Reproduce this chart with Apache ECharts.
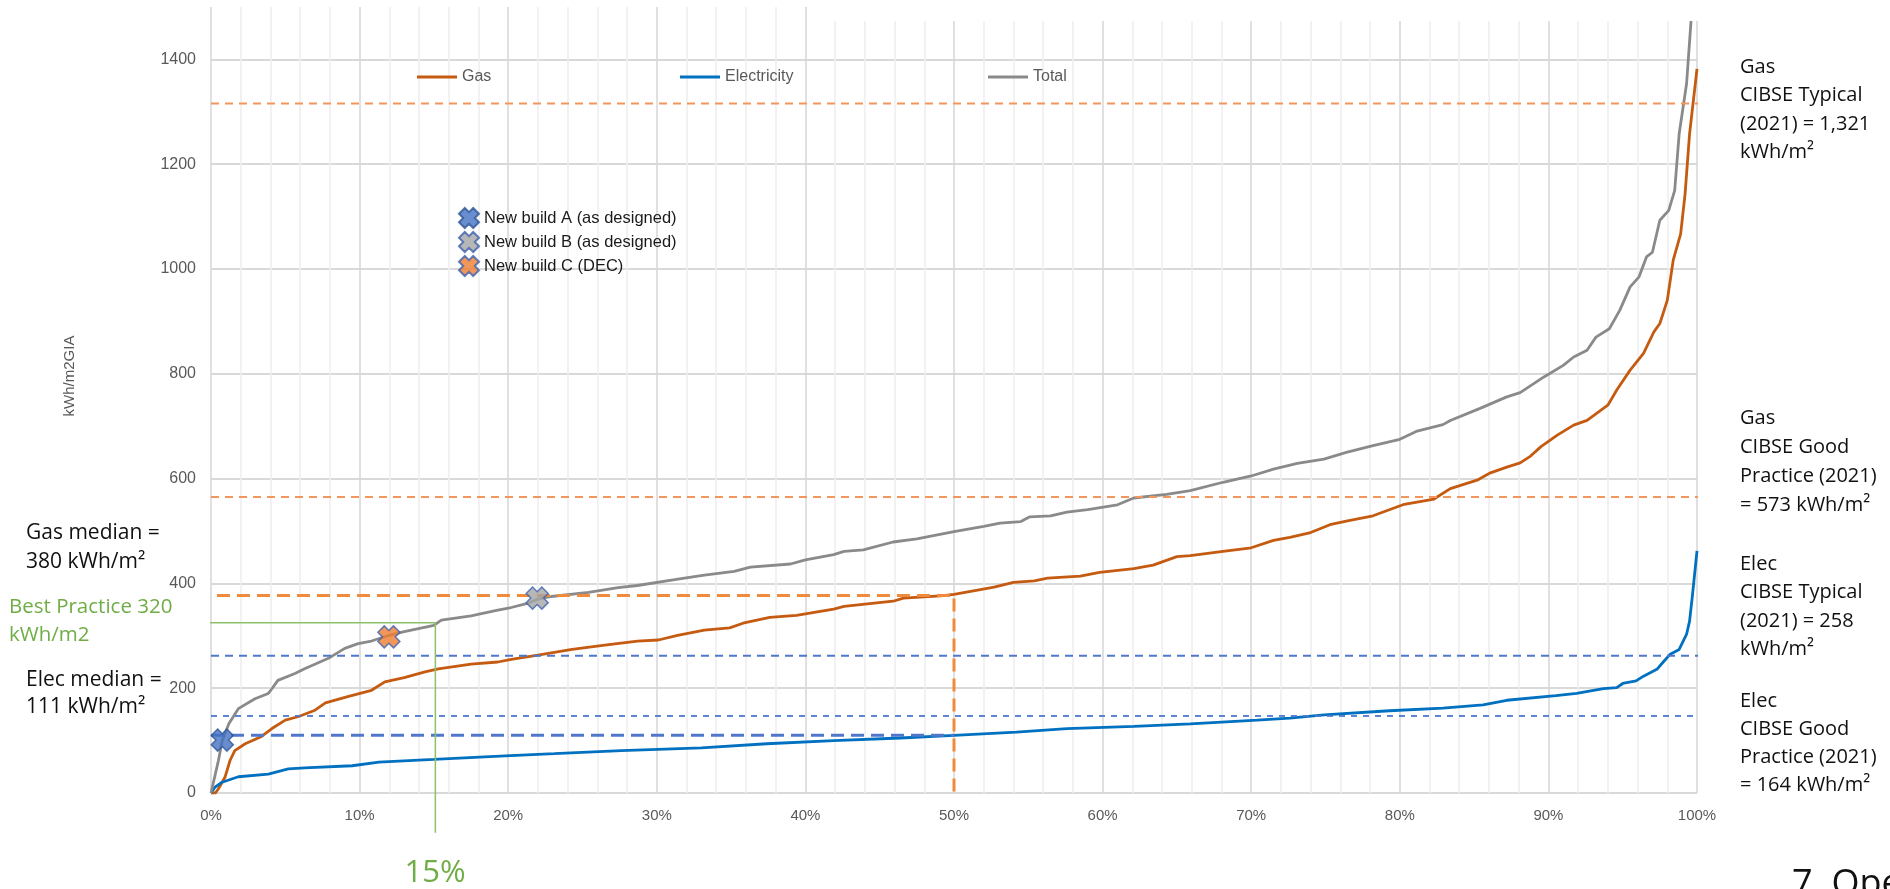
<!DOCTYPE html>
<html>
<head>
<meta charset="utf-8">
<script src="https://cdn.jsdelivr.net/npm/echarts@6/dist/echarts.min.js"></script>
<style>
html,body{margin:0;padding:0;background:#fff;}
#chart{width:1890px;height:889px;}
</style>
</head>
<body>
<div id="chart"></div>
<script>
// ---- Data ----
const gasPct = [0,0.3,0.5,0.94,1.28,1.6,2.3,3.4,4.1,5.0,5.9,7.0,7.7,9.2,10.8,11.7,13.0,14.4,15.3,17.5,19.3,20.2,22.0,24.3,26.5,28.7,30.1,31.4,33.2,34.9,35.8,37.6,39.4,41.9,42.6,45.9,46.6,49.1,50,52.7,54,55.4,56.3,58.5,59.8,62.1,63.4,65,65.9,68.1,70,71.5,72.6,74,75.3,76.4,78.2,80.3,82.3,83.4,85.2,86.1,87.2,88.1,88.8,89.5,90.6,91.7,92.6,94,94.6,95.5,96.4,97.1,97.5,98,98.4,98.9,99.2,99.5,100];
const gasVal = [0,0,8,30,62,81,94,108,123,139,146,158,172,184,196,212,220,231,237,246,250,255,263,274,282,290,292,301,311,315,324,335,339,351,356,366,372,376,379,393,402,405,410,414,421,428,435,451,453,461,468,482,488,497,512,519,529,551,561,581,597,611,622,630,643,661,683,702,711,740,769,807,839,880,896,940,1017,1067,1144,1258,1382];

const elecPct = [0,0.27,0.7,1.84,3.86,5.2,6.3,9.5,11.3,15,19.8,23.1,27.6,33,37.4,41.9,46.4,50,54.2,57.6,62.1,65.9,70.4,72.6,74.9,79.3,82.9,85.6,87.2,90.5,91.9,93.7,94.6,95,95.9,96.4,97.3,97.7,98.2,98.8,99.3,99.5,99.7,100];
const elecVal = [0,11,20,31,36,46,48,52,59,64,71,75,81,86,94,100,105,110,116,123,127,132,139,143,149,157,162,168,177,186,190,199,201,209,214,223,236,249,265,274,303,328,379,462];

const totalPct = [0,0.5,0.76,1.2,1.84,2.96,3.86,4.1,4.5,5.65,6.3,7.9,9.0,9.9,10.8,12,13,15,15.5,17.5,19.3,20.2,21.3,22,22.9,25.4,27.4,28.7,31.2,33.2,35.2,36.3,39,40,41.9,42.6,43.9,45.9,47.5,50,52,53.1,54.5,55.1,56.5,57.6,59,61,62.1,64.3,65.9,68.1,70,71.5,73.1,74.9,76.4,78.2,80,81.1,82.9,83.4,85.4,87.2,88.1,89.7,91,91.7,92.6,93.2,94.1,94.8,95.5,96.1,96.6,97,97.5,98.1,98.5,98.8,99.3,99.6,100];
const totalVal = [0,62,100,132,161,180,190,199,215,228,237,257,276,285,290,301,308,320,330,338,349,354,362,370,375,383,392,396,407,416,423,431,437,445,455,461,464,479,485,499,509,515,518,527,529,536,541,550,563,570,577,593,605,618,629,637,650,663,675,690,703,711,734,756,764,794,816,832,845,870,886,921,966,985,1023,1032,1093,1112,1150,1258,1354,1474,1560];

// New build points [percentile, kWh/m2]
const buildNames = ['New build A (as designed)','New build B (as designed)','New build C (DEC)'];
const buildPct = [0.76, 21.95, 11.97];
const buildVal = [101, 372, 298];

// Benchmark levels (as drawn)
const gasBench = [1316, 565];      // CIBSE typical, good practice
const elecBench = [262, 147];      // CIBSE typical, good practice
const medians = [377, 110];        // gas median, elec median
const medianPct = 50;
const bestPractice = [325, 15.1];  // value, percentile

const yTicks = [0,200,400,600,800,1000,1200,1400];
const xTicks = [0,10,20,30,40,50,60,70,80,90,100];

// ---- Chart ----
const zip = (a, b) => a.map((v, i) => [v, b[i]]);
const xPath = 'path://M0,2.9 L2.9,0 L5,2.1 L7.1,0 L10,2.9 L7.9,5 L10,7.1 L7.1,10 L5,7.9 L2.9,10 L0,7.1 L2.1,5 Z';
const sans = "'Liberation Sans',sans-serif";
const annFont = "'Open Sans','Liberation Sans',sans-serif";

function refLine(data, color, width, dash, z) {
  return {
    type: 'line', data: data, symbol: 'none', silent: true, clip: false,
    lineStyle: { color: color, width: width, type: dash },
    z: z || 3, animation: false
  };
}
function lineLegend(name, left) {
  return { data: [name], left: left, top: 64, icon: 'rect', itemWidth: 40, itemHeight: 3,
    textStyle: { fontSize: 16, color: '#595959', fontFamily: sans } };
}

const chart = echarts.init(document.getElementById('chart'), null, { renderer: 'canvas' });

const option = {
  animation: false,
  backgroundColor: '#ffffff',
  grid: { left: 211, right: 193, top: 7, bottom: 96 },
  xAxis: {
    type: 'value', min: 0, max: 100, interval: 10,
    axisLine: { show: false }, axisTick: { show: false },
    axisLabel: { formatter: v => xTicks.includes(v) ? v + '%' : '', margin: 15, fontSize: 15, color: '#595959', fontFamily: sans },
    splitLine: { show: true, lineStyle: { color: '#D6D6D6', width: 1.5 } },
    minorTick: { show: false, splitNumber: 5 },
    minorSplitLine: { show: true, lineStyle: { color: '#EEEEEE', width: 1.5 } }
  },
  yAxis: {
    type: 'value', min: 0, max: 1500, interval: 200,
    axisLine: { show: false }, axisTick: { show: false },
    axisLabel: { formatter: v => yTicks.includes(v) ? String(v) : '', showMaxLabel: false, margin: 15, fontSize: 16, color: '#595959', fontFamily: sans },
    splitLine: { show: true, showMaxLine: false, lineStyle: { color: '#D9D9D9', width: 2 } }
  },
  legend: [
    lineLegend('Gas', 412),
    lineLegend('Electricity', 675),
    lineLegend('Total', 983),
    { data: buildNames, orient: 'vertical', left: 453, top: 202, itemWidth: 20, itemHeight: 20, itemGap: 2,
      textStyle: { fontSize: 16.5, color: '#1a1a1a', fontFamily: sans } }
  ],
  series: [
    { name: 'Gas', type: 'line', data: zip(gasPct, gasVal), symbol: 'none', lineStyle: { color: '#C55A11', width: 2.8 }, itemStyle: { color: '#C55A11' }, z: 2 },
    { name: 'Electricity', type: 'line', data: zip(elecPct, elecVal), symbol: 'none', lineStyle: { color: '#0070C0', width: 2.8 }, itemStyle: { color: '#0070C0' }, z: 2 },
    { name: 'Total', type: 'line', data: zip(totalPct, totalVal), symbol: 'none', lineStyle: { color: '#8A8A8A', width: 2.8 }, itemStyle: { color: '#8A8A8A' }, z: 2 },
    // benchmark lines
    refLine([[0, gasBench[0]], [100.56, gasBench[0]]], '#F4965A', 2, [8, 6]),
    refLine([[0, gasBench[1]], [100.56, gasBench[1]]], '#F4965A', 2, [8, 6]),
    refLine([[0, elecBench[0]], [100.56, elecBench[0]]], '#4F78CC', 2, [8, 6]),
    refLine([[0, elecBench[1]], [100.56, elecBench[1]]], '#4F78CC', 1.8, [6, 6]),
    // medians
    refLine([[0.4, medians[0]], [medianPct, medians[0]], [medianPct, 0]], '#F08A3C', 3, [13, 7]),
    refLine([[0, medians[1]], [medianPct, medians[1]]], '#4F78CC', 3, [13, 7]),
    // best practice
    refLine([[-1.2, bestPractice[0]], [bestPractice[1], bestPractice[0]], [bestPractice[1], -76]], '#8CC16A', 1.5, 'solid'),
    // new builds
    { name: buildNames[0], type: 'scatter', data: [[buildPct[0], buildVal[0]]], symbol: xPath, symbolSize: 22, itemStyle: { color: '#4472C4', borderColor: '#2F5597', borderWidth: 1.5 }, z: 6 },
    { name: buildNames[1], type: 'scatter', data: [[buildPct[1], buildVal[1]]], symbol: xPath, symbolSize: 22, itemStyle: { color: '#A5A5A5', borderColor: '#3D62AE', borderWidth: 1.5 }, z: 6 },
    { name: buildNames[2], type: 'scatter', data: [[buildPct[2], buildVal[2]]], symbol: xPath, symbolSize: 22, itemStyle: { color: '#ED7D31', borderColor: '#3D62AE', borderWidth: 1.5 }, z: 6 }
  ],
  graphic: [
    { type: 'rect', left: 807, top: 0, shape: { width: 1083, height: 21 }, style: { fill: '#ffffff' }, z: 100 },
    { type: 'text', x: 70, y: 376, rotation: Math.PI / 2, style: { text: 'kWh/m2GIA', fontSize: 15, fontFamily: sans, fill: '#595959', align: 'center', verticalAlign: 'middle' } },
    { type: 'text', x: 26, y: 518.5, style: { text: 'Gas median =\n380 kWh/m²', fontSize: 21, lineHeight: 29, fontFamily: annFont, fill: '#111', verticalAlign: 'top' } },
    { type: 'text', x: 9, y: 593, style: { text: 'Best Practice 320\nkWh/m2', fontSize: 20.5, lineHeight: 28, fontFamily: annFont, fill: '#70AD47', verticalAlign: 'top' } },
    { type: 'text', x: 26, y: 666.5, style: { text: 'Elec median =\n111 kWh/m²', fontSize: 21, lineHeight: 27, fontFamily: annFont, fill: '#111', verticalAlign: 'top' } },
    { type: 'text', x: 435, y: 873, style: { text: '15%', fontSize: 31, fontFamily: annFont, fill: '#70AD47', align: 'center', verticalAlign: 'middle' } },
    { type: 'text', x: 1740, y: 52.75, style: { text: 'Gas\nCIBSE Typical\n(2021) = 1,321\nkWh/m²', fontSize: 20, lineHeight: 28.5, fontFamily: annFont, fill: '#111', verticalAlign: 'top' } },
    { type: 'text', x: 1740, y: 403.75, style: { text: 'Gas\nCIBSE Good\nPractice (2021)\n= 573 kWh/m²', fontSize: 20, lineHeight: 29, fontFamily: annFont, fill: '#111', verticalAlign: 'top' } },
    { type: 'text', x: 1740, y: 549.75, style: { text: 'Elec\nCIBSE Typical\n(2021) = 258\nkWh/m²', fontSize: 20, lineHeight: 28.5, fontFamily: annFont, fill: '#111', verticalAlign: 'top' } },
    { type: 'text', x: 1740, y: 687, style: { text: 'Elec\nCIBSE Good\nPractice (2021)\n= 164 kWh/m²', fontSize: 20, lineHeight: 28, fontFamily: annFont, fill: '#111', verticalAlign: 'top' } },
    { type: 'text', x: 1792, y: 885, style: { text: '7. Ope', fontSize: 36, fontFamily: annFont, fill: '#111', verticalAlign: 'middle' } }
  ]
};
chart.setOption(option);
</script>
</body>
</html>
